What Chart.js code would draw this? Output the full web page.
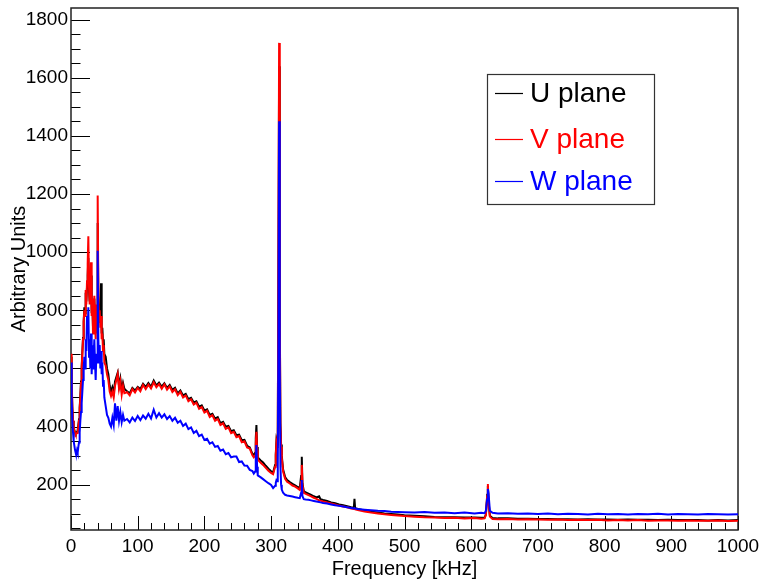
<!DOCTYPE html>
<html>
<head>
<meta charset="utf-8">
<script src="https://cdn.jsdelivr.net/npm/chart.js@4.4.1/dist/chart.umd.min.js"></script>
<style>
  html, body { margin: 0; padding: 0; background: #fff; }
  #wrap { width: 759px; height: 581px; position: relative; }
</style>
</head>
<body>
<div id="wrap"><canvas id="spectrum"></canvas></div>
<script>
// frequency bins in kHz, finer around the spikes
var freq = [
  0,1,2,3,4,5,6,7,8,9,10,11,12,13,14,15,16,17,18,19,20,21,22,23,24,25,26,27,28,29,30,31,32,33,34,35,36,37,38,39,40,41,42,43,44,45,46,47,48,49,50,
  52,54,56,58,60,62,64,66,68,70,72,74,76,78,80,
  84,88,92,96,100,104,108,112,116,120,124,128,132,136,140,144,148,152,156,160,164,168,172,176,180,184,188,192,196,200,204,208,212,216,220,224,228,232,236,240,244,248,252,256,260,264,268,272,
  274,276,277,278,279,280,284,288,292,296,300,303,306,307,308,309,310,311,312,313,314,315,316,318,321,324,328,332,336,340,343,345,346,347,349,352,356,360,364,368,372,374,378,384,390,396,402,408,414,420,424,425,426,430,440,450,460,470,480,490,500,
  515,530,545,560,575,590,605,615,620,622,624,625,626,628,632,640,655,670,685,700,715,730,745,760,775,790,805,820,835,850,865,880,895,910,925,940,955,970,985,1000
];

var uPlane = [
  640,550,465,420,400,388,380,376,378,382,388,405,425,465,505,555,605,655,705,760,810,790,860,830,880,920,980,870,830,850,920,790,830,740,810,840,770,720,810,770,1100,850,780,810,760,893,720,740,690,700,650,
  640,600,580,540,520,535,515,555,570,585,540,565,525,550,530,
  521,514,533,524,536,529,547,536,550,537,558,541,551,537,549,533,543,526,533,514,524,507,512,494,499,483,487,468,473,455,459,440,444,427,432,412,416,399,402,384,387,370,372,353,354,334,328,306,
  302,310,360,405,330,294,284,276,265,255,246,242,268,305,350,338,372,950,1640,780,410,338,300,252,226,216,209,203,198,192,188,230,296,205,178,173,169,165,160,156,160,150,147,144,139,136,132,129,126,122,120,151,119,116,111,107,104,101,99,97,95,
  93,91,89,88,88,87,87,86,86,97,165,195,145,93,85,84,84,83,83,82,82,81,81,80,81,80,80,79,80,79,79,78,79,78,78,78,77,78,77,78
];

var vPlane = [
  650,560,470,420,400,385,378,372,375,378,382,400,420,460,500,550,600,650,700,760,800,780,870,820,900,960,1055,880,820,860,965,780,840,720,800,850,760,700,820,760,1195,860,760,800,740,780,700,720,660,680,620,
  610,580,560,520,505,520,500,540,560,580,530,555,510,540,515,
  518,507,529,517,533,521,543,529,544,531,552,535,546,530,545,527,538,519,528,508,519,500,507,487,494,476,482,461,467,448,454,433,439,420,426,405,411,392,397,377,382,363,367,346,349,328,324,301,
  294,300,340,382,318,286,276,268,258,248,240,236,262,300,343,330,365,1000,1720,800,400,330,292,245,220,210,204,197,193,187,182,210,268,198,172,168,164,160,155,151,146,145,142,139,135,132,128,125,122,118,116,117,115,113,108,104,101,98,96,94,92,
  90,88,87,85,86,84,85,83,84,95,160,202,140,90,82,81,82,80,81,80,79,80,78,79,78,79,77,78,77,78,76,77,77,76,77,76,76,77,75,76
];

var wPlane = [
  620,500,420,380,350,335,320,310,305,318,310,330,345,380,420,450,480,520,560,600,640,600,700,660,780,720,810,640,700,600,720,580,680,600,650,700,620,560,650,620,1005,700,620,680,600,660,580,620,540,560,500,
  470,440,430,410,400,430,405,480,420,470,420,450,415,440,420,
  426,414,431,419,436,422,438,427,444,428,458,431,446,431,442,426,436,420,430,413,420,402,410,391,397,378,385,367,372,354,358,341,346,330,333,317,321,305,309,294,297,297,278,280,266,265,251,247,
  238,245,290,336,262,232,226,219,212,205,199,188,196,206,215,212,262,700,1450,600,262,200,183,172,165,163,161,159,157,155,154,172,216,160,150,149,148,146,144,142,140,139,137,135,132,129,127,125,122,120,118,119,118,116,114,112,110,109,107,106,105,
  104,106,103,104,102,104,101,103,102,110,150,185,170,110,103,101,102,100,101,99,101,98,100,99,97,100,98,99,97,99,98,100,97,99,98,97,99,98,97,98
];

var xTicks = [0, 100, 200, 300, 400, 500, 600, 700, 800, 900, 1000];
var yTicks = [200, 400, 600, 800, 1000, 1200, 1400, 1600, 1800];
var planeNames = ['U plane', 'V plane', 'W plane'];
var planeColors = ['#000000', '#ff0000', '#0000ff'];

function toPoints(vals) {
  return freq.map(function (f, i) { return { x: f, y: vals[i] }; });
}

var tickFont = { family: "'Liberation Sans', Arial, sans-serif", size: 19 };
var titleFont = { family: "'Liberation Sans', Arial, sans-serif", size: 20 };

// keep the plot frame where the picture has it, no room reserved for edge labels
function fixBox(size, key) {
  return function (s) {
    s[key] = size;
    s.paddingTop = 0; s.paddingBottom = 0; s.paddingLeft = 0; s.paddingRight = 0;
  };
}

// ROOT style frame with ticks pointing inwards
var frameTicks = {
  id: 'frameTicks',
  beforeDatasetsDraw: function (chart) {
    var ctx = chart.ctx, a = chart.chartArea;
    var xs = chart.scales.x, ys = chart.scales.y;
    ctx.save();
    ctx.strokeStyle = '#000';
    ctx.lineWidth = 1;
    ctx.beginPath();
    for (var v = 50; v <= ys.max; v += 50) {
      var py = Math.round(ys.getPixelForValue(v)) + 0.5;
      var len = (v % 200 === 0) ? 19 : 9.5;
      ctx.moveTo(a.left, py);
      ctx.lineTo(a.left + len, py);
    }
    for (var f = 0; f <= xs.max; f += 20) {
      var px = Math.round(xs.getPixelForValue(f)) + 0.5;
      var l2 = (f % 100 === 0) ? 14 : 7;
      ctx.moveTo(px, a.bottom);
      ctx.lineTo(px, a.bottom - l2);
    }
    ctx.stroke();
    ctx.lineWidth = 1.5;
    ctx.strokeStyle = '#222';
    ctx.strokeRect(a.left, a.top, a.right - a.left, a.bottom - a.top);
    ctx.restore();
  }
};

var boxLegend = {
  id: 'boxLegend',
  afterDraw: function (chart) {
    var ctx = chart.ctx;
    var left = 487, top = 74, right = 654, bottom = 204;
    var rows = [93, 139, 181];
    ctx.save();
    ctx.fillStyle = '#fff';
    ctx.fillRect(left, top, right - left, bottom - top);
    ctx.strokeStyle = '#333';
    ctx.lineWidth = 1.2;
    ctx.strokeRect(left + 0.5, top + 0.5, right - left, bottom - top);
    ctx.font = "28px 'Liberation Sans', Arial, sans-serif";
    ctx.textBaseline = 'middle';
    chart.data.datasets.forEach(function (ds, i) {
      var y = rows[i];
      ctx.strokeStyle = ds.borderColor;
      ctx.lineWidth = 1.2;
      ctx.beginPath();
      ctx.moveTo(495, y + 0.5);
      ctx.lineTo(523, y + 0.5);
      ctx.stroke();
      ctx.fillStyle = ds.borderColor;
      ctx.fillText(ds.label, 530, y + 1);
    });
    ctx.restore();
  }
};

new Chart(document.getElementById('spectrum'), {
  type: 'line',
  data: {
    datasets: [
      { label: planeNames[0], data: toPoints(uPlane), borderColor: planeColors[0], order: 3 },
      { label: planeNames[1], data: toPoints(vPlane), borderColor: planeColors[1], order: 2 },
      { label: planeNames[2], data: toPoints(wPlane), borderColor: planeColors[2], order: 1 }
    ]
  },
  options: {
    responsive: true,
    maintainAspectRatio: false,
    animation: false,
    layout: { padding: { top: 8, right: 21, left: 0, bottom: 0 } },
    elements: {
      point: { radius: 0 },
      line: { borderWidth: 2, tension: 0 }
    },
    plugins: {
      legend: { display: false },
      tooltip: { enabled: false }
    },
    scales: {
      x: {
        type: 'linear',
        min: 0,
        max: 1000,
        grid: { display: false, drawTicks: false },
        border: { display: false },
        afterFit: fixBox(51, 'height'),
        afterBuildTicks: function (s) { s.ticks = xTicks.map(function (v) { return { value: v }; }); },
        ticks: { color: '#000', font: tickFont, padding: 5, maxRotation: 0, callback: function (v) { return String(v); } },
        title: { display: true, text: 'Frequency [kHz]', color: '#000', font: titleFont, padding: { top: 0, bottom: 0 } }
      },
      y: {
        type: 'linear',
        min: 44,
        max: 1840,
        grid: { display: false, drawTicks: false },
        border: { display: false },
        afterFit: fixBox(71, 'width'),
        afterBuildTicks: function (s) { s.ticks = yTicks.map(function (v) { return { value: v }; }); },
        ticks: { color: '#000', font: tickFont, padding: 3, callback: function (v) { return String(v); } },
        title: { display: true, text: 'Arbitrary Units', color: '#000', font: titleFont, padding: { top: 7, bottom: 0 } }
      }
    }
  },
  plugins: [frameTicks, boxLegend]
});
</script>
</body>
</html>
